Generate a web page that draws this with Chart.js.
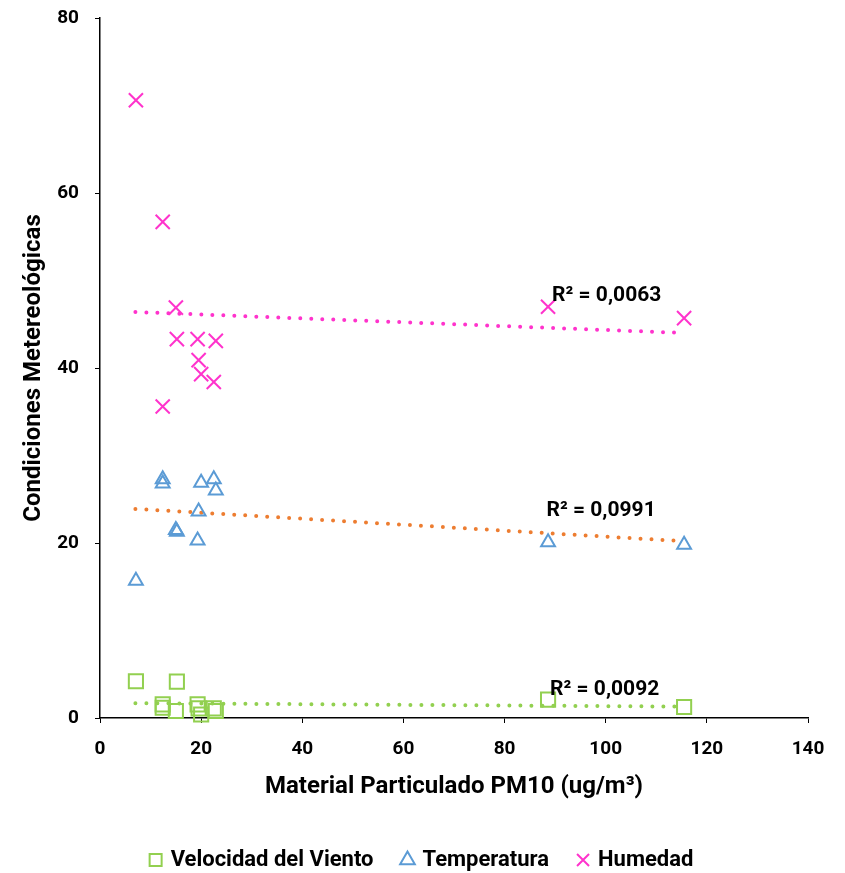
<!DOCTYPE html>
<html><head><meta charset="utf-8">
<script src="https://cdn.jsdelivr.net/npm/chart.js@4/dist/chart.umd.min.js"></script>
<style>html,body{margin:0;padding:0;background:#fff}</style>
</head><body>
<canvas id="c" width="845" height="873"></canvas>
<script>
// PM10 (ug/m3) for each sample
const pm10 = [7.1, 12.4, 12.4, 15.0, 15.2, 19.3, 19.5, 20.0, 22.5, 22.9, 88.6, 115.5];
// Meteorological conditions per sample
const velocidad   = [4.2, 1.56, 1.17, 0.8, 4.15, 1.56, 1.1, 0.4, 1.1, 0.8, 2.1, 1.26];
const temperatura = [15.7, 27.3, 26.8, 21.5, 21.3, 20.3, 23.6, 26.9, 27.3, 26.0, 20.1, 19.8];
const humedad     = [70.6, 56.7, 35.6, 46.9, 43.3, 43.3, 40.9, 39.3, 38.4, 43.1, 47.0, 45.7];
// Linear trend lines
const trendX    = [7.0, 115.5];
const trendVel  = [1.70, 1.30];
const trendTemp = [23.9, 20.2];
const trendHum  = [46.4, 44.0];
const seriesNames = ['Velocidad del Viento', 'Temperatura', 'Humedad'];
const r2Text = ['R² = 0,0092', 'R² = 0,0991', 'R² = 0,0063'];
const xTicks = [0, 20, 40, 60, 80, 100, 120, 140];
const yTicks = [0, 20, 40, 60, 80];

const FONT = 'Roboto, "Liberation Sans", Arial, sans-serif';
const GREEN = '#92D050', BLUE = '#5B9BD5', PINK = '#FF33CC', ORANGE = '#ED7D31';

const pts = ys => pm10.map((x, i) => ({x: x, y: ys[i]}));
const line = ys => trendX.map((x, i) => ({x: x, y: ys[i]}));

const r2Plugin = {
  id: 'r2',
  beforeLayout(chart) {
    const lg = chart.legend;
    if (lg && !lg._fixedH) {
      const f = lg.fit;
      lg.fit = function () { f.call(this); this.height = 54; };
      lg._fixedH = true;
    }
  },
  afterLayout(chart) {
    const lg = chart.legend;
    if (lg) { lg.left = 0; lg.right = chart.width; lg.width = chart.width; }
  },
  afterDatasetsDraw(chart) {
    const {ctx, scales: {x, y}} = chart;
    const anchors = [[89.0, 3.2], [88.3, 23.7], [89.4, 48.3]];
    ctx.save();
    ctx.font = 'bold 21px ' + FONT;
    ctx.fillStyle = '#000';
    ctx.textAlign = 'left';
    ctx.textBaseline = 'middle';
    r2Text.forEach((t, i) => {
      ctx.fillText(t, x.getPixelForValue(anchors[i][0]), y.getPixelForValue(anchors[i][1]));
    });
    ctx.restore();
  }
};

const pointDs = (label, ys, color, style, r) => ({
  type: 'scatter', label, data: pts(ys), borderColor: color, backgroundColor: 'rgba(0,0,0,0)',
  pointStyle: style, pointRadius: r, pointHoverRadius: r, borderWidth: 2, pointBorderWidth: 2, clip: false
});
const trendDs = (ys, color) => ({
  type: 'line', label: 'trend', data: line(ys), borderColor: color, borderWidth: 4,
  borderDash: [0, 11], borderCapStyle: 'round', pointRadius: 0, fill: false, showLine: true, clip: false
});

new Chart(document.getElementById('c'), {
  type: 'scatter',
  data: {
    datasets: [
      pointDs(seriesNames[0], velocidad, GREEN, 'rect', 10),
      pointDs(seriesNames[1], temperatura, BLUE, 'triangle', 8),
      pointDs(seriesNames[2], humedad, PINK, 'crossRot', 10),
      trendDs(trendVel, GREEN),
      trendDs(trendTemp, ORANGE),
      trendDs(trendHum, PINK)
    ]
  },
  options: {
    responsive: false,
    devicePixelRatio: 1,
    animation: false,
    layout: {padding: {top: 18, right: 37, left: 0, bottom: 0}},
    plugins: {
      tooltip: {enabled: false},
      legend: {
        position: 'bottom',
        labels: {
          filter: item => item.datasetIndex < 3,
          usePointStyle: true, boxWidth: 8, boxHeight: 12, padding: 30,
          color: '#000', font: {family: FONT, size: 22, weight: 'bold'}
        }
      }
    },
    scales: {
      x: {
        type: 'linear', min: 0, max: 140,
        afterBuildTicks: s => { s.ticks = xTicks.map(v => ({value: v})); },
        afterFit: s => { s.height = 101; },
        ticks: {color: '#000', padding: 15, font: {family: FONT, size: 19, weight: 'bold'}},
        grid: {drawOnChartArea: false, drawTicks: true, tickLength: 5, color: '#000', lineWidth: 1},
        border: {display: true, color: '#000', width: 1.5},
        title: {display: true, text: 'Material Particulado PM10 (ug/m³)', color: '#000',
                font: {family: FONT, size: 24, weight: 'bold'}, padding: {top: 0, bottom: 18}}
      },
      y: {
        type: 'linear', min: 0, max: 80,
        afterBuildTicks: s => { s.ticks = yTicks.map(v => ({value: v})); },
        afterFit: s => { s.width = 100; s.paddingTop = 0; s.paddingBottom = 0; },
        ticks: {color: '#000', padding: 16, font: {family: FONT, size: 19, weight: 'bold'}},
        grid: {drawOnChartArea: false, drawTicks: true, tickLength: 5, color: '#000', lineWidth: 1},
        border: {display: true, color: '#000', width: 1.5},
        title: {display: true, text: 'Condiciones Metereológicas', color: '#000',
                font: {family: FONT, size: 24, weight: 'bold'}, padding: {top: 20, bottom: 0}}
      }
    }
  },
  plugins: [r2Plugin]
});
</script>
</body></html>
